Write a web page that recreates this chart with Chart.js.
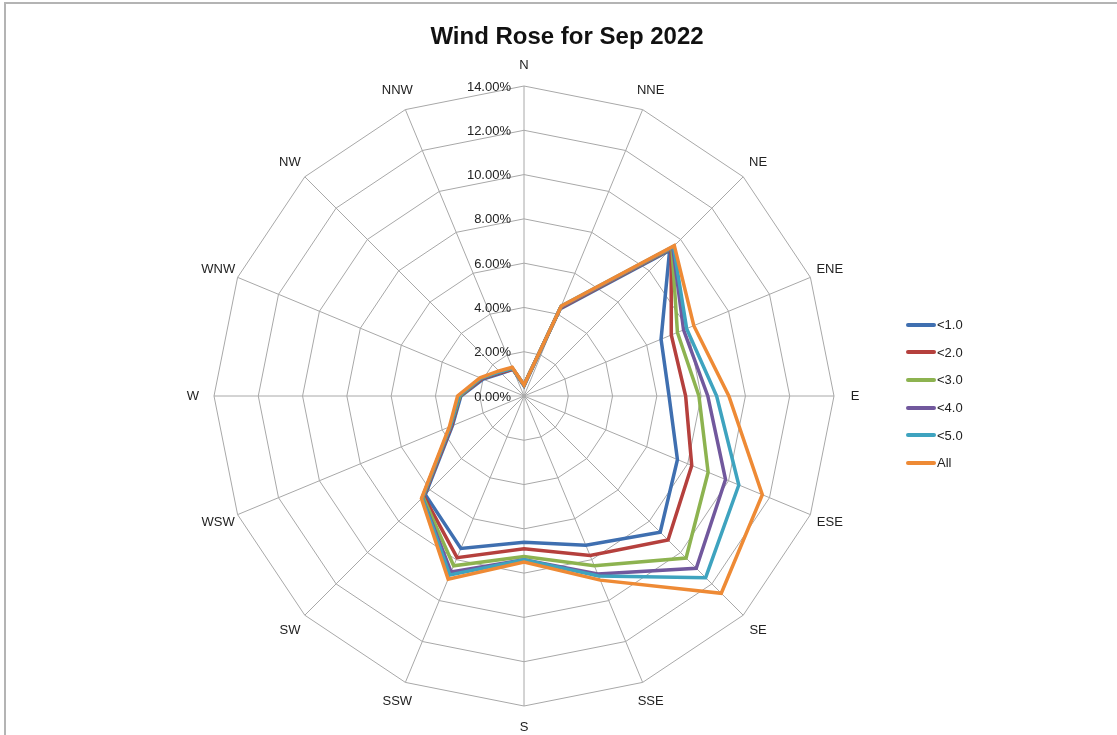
<!DOCTYPE html>
<html>
<head>
<meta charset="utf-8">
<title>Wind Rose for Sep 2022</title>
<script src="https://cdn.jsdelivr.net/npm/chart.js@4/dist/chart.umd.min.js"></script>
<style>
  html, body { margin: 0; padding: 0; background: #fff; }
  #wrap { position: relative; width: 1117px; height: 735px; overflow: hidden; }
  #frame { position: absolute; left: 4px; top: 2px; width: 1200px; height: 800px;
           border-top: 2px solid #b4b4b4; border-left: 2px solid #b4b4b4; }
  #chart { position: absolute; left: 0; top: 0; }
  #title { position: absolute; left: 0; top: 22px; width: 1134px; text-align: center;
           font: bold 24px "Liberation Sans", Arial, sans-serif; color: #111; }
  #legend { position: absolute; left: 906px; top: 311px; font: 13px "Liberation Sans", Arial, sans-serif; color: #222; }
  #legend .row { height: 27.6px; display: flex; align-items: center; }
  #legend .swatch { width: 30px; height: 4px; border-radius: 2px; margin-right: 1px; }
</style>
</head>
<body>
<div id="wrap">
  <div id="frame"></div>
  <canvas id="chart" width="1117" height="735"></canvas>
  <div id="title">Wind Rose for Sep 2022</div>
  <div id="legend"></div>
</div>
<script>
// directions, clockwise from north
const directions = ['N', 'NNE', 'NE', 'ENE', 'E', 'ESE', 'SE', 'SSE', 'S', 'SSW', 'SW', 'WSW', 'W', 'WNW', 'NW', 'NNW'];

// percentage of time in each direction, cumulative by wind speed
const below1 = [0.45, 4.25, 9.3, 6.7, 6.55, 7.5, 8.7, 7.3, 6.6, 7.45, 6.3, 3.5, 2.85, 2.0, 1.45, 1.3];
const below2 = [0.5, 4.3, 9.4, 7.2, 7.3, 8.2, 9.2, 7.8, 6.9, 7.9, 6.4, 3.55, 2.9, 2.05, 1.5, 1.3];
const below3 = [0.5, 4.35, 9.45, 7.5, 7.9, 9.0, 10.35, 8.3, 7.25, 8.3, 6.45, 3.6, 2.9, 2.1, 1.55, 1.35];
const below4 = [0.5, 4.35, 9.5, 7.8, 8.3, 9.85, 11.0, 8.7, 7.4, 8.6, 6.5, 3.6, 2.95, 2.1, 1.55, 1.35];
const below5 = [0.5, 4.4, 9.55, 7.95, 8.7, 10.5, 11.6, 8.8, 7.4, 8.75, 6.5, 3.6, 2.95, 2.1, 1.55, 1.35];
const allSpeeds = [0.5, 4.4, 9.6, 8.3, 9.25, 11.65, 12.6, 9.0, 7.5, 8.95, 6.55, 3.65, 3.0, 2.15, 1.6, 1.4];

const seriesNames = ['<1.0', '<2.0', '<3.0', '<4.0', '<5.0', 'All'];
const seriesData = [below1, below2, below3, below4, below5, allSpeeds];
const seriesColors = ['#3f6fb0', '#b5403d', '#8db350', '#71589d', '#3ea3bf', '#ee8a35'];

const axisMax = 14;
const axisStep = 2;

const labelFont = '13px "Liberation Sans", Arial, sans-serif';

// tick labels to the left of the N spoke, and the compass labels
const roseLabels = {
  id: 'roseLabels',
  afterDraw(chart) {
    const scale = chart.scales.r;
    const ctx = chart.ctx;
    ctx.save();
    ctx.font = labelFont;
    ctx.fillStyle = '#222';
    ctx.textAlign = 'right';
    ctx.textBaseline = 'middle';
    for (let v = 0; v <= axisMax; v += axisStep) {
      const y = scale.yCenter - scale.getDistanceFromCenterForValue(v);
      ctx.fillText(v.toFixed(2) + '%', scale.xCenter - 13, y + 1);
    }
    ctx.textAlign = 'center';
    directions.forEach((d, i) => {
      const p = scale.getPointPosition(i, scale.drawingArea + 21);
      ctx.fillText(d, p.x, p.y);
    });
    ctx.restore();
  }
};

new Chart(document.getElementById('chart'), {
  type: 'radar',
  data: {
    labels: directions,
    datasets: seriesNames.map((name, i) => ({
      label: name,
      data: seriesData[i],
      borderColor: seriesColors[i],
      backgroundColor: seriesColors[i],
      borderWidth: 3.5,
      pointRadius: 0,
      fill: false,
      tension: 0,
      order: seriesNames.length - 1 - i
    }))
  },
  options: {
    responsive: false,
    animation: false,
    layout: { padding: { left: 214, right: 283, top: 86, bottom: 29 } },
    plugins: {
      legend: { display: false },
      title: { display: false },
      tooltip: { enabled: false }
    },
    scales: {
      r: {
        min: 0,
        max: axisMax,
        ticks: { display: false, stepSize: axisStep },
        grid: { color: '#a8a8a8', lineWidth: 1 },
        angleLines: { color: '#a8a8a8', lineWidth: 1 },
        pointLabels: { display: false }
      }
    }
  },
  plugins: [roseLabels]
});

// legend
const legend = document.getElementById('legend');
seriesNames.forEach((name, i) => {
  const row = document.createElement('div');
  row.className = 'row';
  row.innerHTML = `<span class="swatch" style="background:${seriesColors[i]}"></span><span>${name.replace('<', '&lt;')}</span>`;
  legend.appendChild(row);
});
</script>
</body>
</html>
